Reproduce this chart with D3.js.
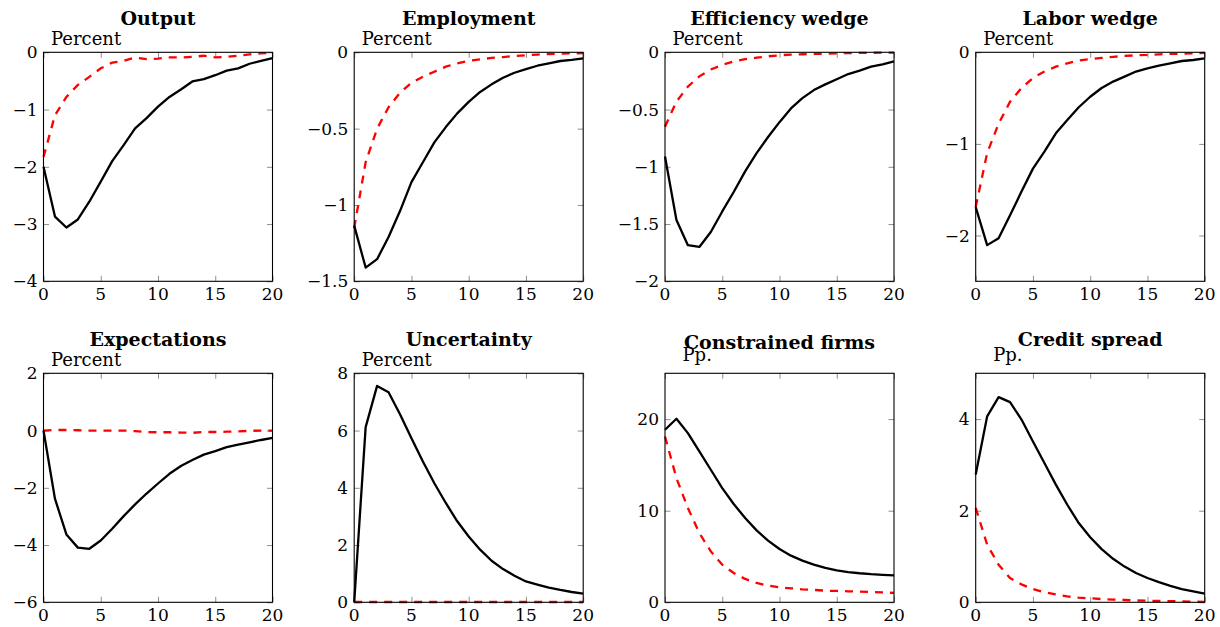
<!DOCTYPE html>
<html>
<head>
<meta charset="utf-8">
<script src="https://cdn.jsdelivr.net/npm/d3@7"></script>
<style>
  body { margin: 0; background: #fff; }
  svg { display: block; }
  text { font-family: "DejaVu Serif", serif; fill: #000; }
</style>
</head>
<body>
<svg id="chart" width="1220" height="627"></svg>
<script>
// horizon (quarters after the shock)
const horizon = [0, 1, 2, 3, 4, 5, 6, 7, 8, 9, 10, 11, 12, 13, 14, 15, 16, 17, 18, 19, 20];
const xTicks = [0, 5, 10, 15, 20];

const titles = ["Output", "Employment", "Efficiency wedge", "Labor wedge",
                "Expectations", "Uncertainty", "Constrained firms", "Credit spread"];
const units = ["Percent", "Percent", "Percent", "Percent", "Percent", "Percent", "Pp.", "Pp."];

const yDomains = [[-4, 0], [-1.5, 0], [-2, 0], [-2.5, 0], [-6, 2], [0, 8], [0, 25], [0, 5]];
const yTicks = [
  [-4, -3, -2, -1, 0],
  [-1.5, -1, -0.5, 0],
  [-2, -1.5, -1, -0.5, 0],
  [-2, -1, 0],
  [-6, -4, -2, 0, 2],
  [0, 2, 4, 6, 8],
  [0, 10, 20],
  [0, 2, 4]
];

// solid black line
const outputSolid = [-2.0, -2.87, -3.06, -2.92, -2.61, -2.26, -1.9, -1.62, -1.33, -1.15, -0.95, -0.78, -0.65, -0.51, -0.47, -0.4, -0.32, -0.28, -0.2, -0.15, -0.1];
const employmentSolid = [-1.135, -1.41, -1.355, -1.21, -1.04, -0.85, -0.72, -0.59, -0.49, -0.4, -0.325, -0.26, -0.21, -0.167, -0.134, -0.11, -0.088, -0.072, -0.057, -0.05, -0.04];
const efficiencySolid = [-0.91, -1.465, -1.685, -1.7, -1.57, -1.39, -1.22, -1.04, -0.88, -0.74, -0.61, -0.49, -0.4, -0.33, -0.28, -0.236, -0.19, -0.16, -0.125, -0.105, -0.08];
const laborSolid = [-1.69, -2.105, -2.03, -1.78, -1.52, -1.27, -1.085, -0.885, -0.74, -0.6, -0.485, -0.39, -0.32, -0.266, -0.21, -0.175, -0.146, -0.12, -0.095, -0.084, -0.066];
const expectationsSolid = [0, -2.38, -3.63, -4.09, -4.13, -3.84, -3.43, -2.99, -2.58, -2.2, -1.85, -1.51, -1.24, -1.03, -0.84, -0.72, -0.58, -0.49, -0.41, -0.33, -0.26];
const uncertaintySolid = [0, 6.12, 7.56, 7.34, 6.57, 5.73, 4.92, 4.16, 3.47, 2.83, 2.3, 1.84, 1.45, 1.16, 0.93, 0.73, 0.62, 0.51, 0.43, 0.36, 0.3];
const constrainedSolid = [18.84, 20.04, 18.47, 16.47, 14.47, 12.47, 10.73, 9.2, 7.85, 6.73, 5.82, 5.09, 4.55, 4.11, 3.75, 3.49, 3.3, 3.17, 3.07, 3.0, 2.95];
const spreadSolid = [2.79, 4.06, 4.48, 4.37, 3.99, 3.51, 3.04, 2.57, 2.13, 1.73, 1.42, 1.16, 0.95, 0.78, 0.64, 0.53, 0.44, 0.36, 0.29, 0.24, 0.19];

// dashed red line
const outputDashed = [-1.83, -1.1, -0.78, -0.57, -0.43, -0.28, -0.18, -0.15, -0.09, -0.12, -0.11, -0.09, -0.09, -0.08, -0.06, -0.09, -0.08, -0.06, -0.035, -0.02, -0.01];
const employmentDashed = [-1.15, -0.72, -0.5, -0.36, -0.265, -0.2, -0.16, -0.127, -0.094, -0.072, -0.055, -0.046, -0.037, -0.031, -0.024, -0.02, -0.015, -0.011, -0.009, -0.007, -0.005];
const efficiencyDashed = [-0.65, -0.43, -0.3, -0.21, -0.15, -0.11, -0.08, -0.06, -0.047, -0.035, -0.026, -0.02, -0.017, -0.014, -0.012, -0.009, -0.007, -0.005, -0.004, -0.003, -0.002];
const laborDashed = [-1.69, -1.1, -0.78, -0.54, -0.39, -0.28, -0.21, -0.157, -0.12, -0.09, -0.073, -0.062, -0.05, -0.04, -0.033, -0.029, -0.022, -0.018, -0.015, -0.011, -0.007];
const expectationsDashed = [0, 0.02, 0.02, 0.01, 0, 0, 0, 0, -0.02, -0.05, -0.06, -0.06, -0.07, -0.08, -0.05, -0.05, -0.04, -0.03, -0.01, 0, 0];
const uncertaintyDashed = [0.01, 0.01, 0.01, 0.01, 0.01, 0.01, 0.01, 0.01, 0.01, 0.01, 0.01, 0.01, 0.01, 0.01, 0.01, 0.01, 0.01, 0.01, 0.01, 0.01, 0.01];
const constrainedDashed = [18.1, 13.56, 10.29, 7.56, 5.56, 4.11, 3.2, 2.55, 2.11, 1.82, 1.64, 1.53, 1.42, 1.35, 1.27, 1.24, 1.2, 1.16, 1.13, 1.09, 1.02];
const spreadDashed = [2.06, 1.26, 0.82, 0.53, 0.39, 0.29, 0.22, 0.17, 0.13, 0.1, 0.087, 0.07, 0.06, 0.05, 0.04, 0.035, 0.03, 0.025, 0.02, 0.015, 0.01];

const solidSeries = [outputSolid, employmentSolid, efficiencySolid, laborSolid,
                     expectationsSolid, uncertaintySolid, constrainedSolid, spreadSolid];
const dashedSeries = [outputDashed, employmentDashed, efficiencyDashed, laborDashed,
                      expectationsDashed, uncertaintyDashed, constrainedDashed, spreadDashed];

// layout
const plotLefts = [43.5, 354.2, 665, 975.7];
const plotTops = [52.3, 373.3];
const plotSize = 229;
const tickLen = 5.5;

const svg = d3.select("#chart");

titles.forEach(function(title, i) {
  const col = i % 4, row = Math.floor(i / 4);
  const g = svg.append("g")
               .attr("transform", "translate(" + plotLefts[col] + "," + plotTops[row] + ")");

  const x = d3.scaleLinear().domain([0, 20]).range([0, plotSize]);
  const y = d3.scaleLinear().domain(yDomains[i]).range([plotSize, 0]);

  // gray inner ticks on all four sides
  g.append("g").attr("transform", "translate(0," + plotSize + ")").call(d3.axisTop(x).tickValues(xTicks).tickSize(tickLen).tickFormat(""));
  g.append("g").call(d3.axisBottom(x).tickValues(xTicks).tickSize(tickLen).tickFormat(""));
  g.append("g").call(d3.axisRight(y).tickValues(yTicks[i]).tickSize(tickLen).tickFormat(""));
  g.append("g").attr("transform", "translate(" + plotSize + ",0)").call(d3.axisLeft(y).tickValues(yTicks[i]).tickSize(tickLen).tickFormat(""));
  g.selectAll(".domain").remove();
  g.selectAll(".tick line").attr("stroke", "#8f8f8f").attr("stroke-width", 1);

  // tick labels
  g.selectAll(".xlab")
   .data(xTicks)
   .enter()
   .append("text")
   .attr("x", d => x(d))
   .attr("y", plotSize + 19)
   .attr("text-anchor", "middle")
   .attr("font-size", 17)
   .text(d => d);

  g.selectAll(".ylab")
   .data(yTicks[i])
   .enter()
   .append("text")
   .attr("x", -6)
   .attr("y", d => y(d))
   .attr("dy", "0.36em")
   .attr("text-anchor", "end")
   .attr("font-size", 17)
   .text(d => d3.format("")(d));

  const line = d3.line()
                 .x((d, k) => x(horizon[k]))
                 .y(d => y(d));

  g.append("path")
   .datum(dashedSeries[i])
   .attr("d", line)
   .attr("fill", "none")
   .attr("stroke", "#ff0000")
   .attr("stroke-width", 2.3)
   .attr("stroke-dasharray", "8,7");

  g.append("path")
   .datum(solidSeries[i])
   .attr("d", line)
   .attr("fill", "none")
   .attr("stroke", "#000")
   .attr("stroke-width", 2.3)
   .attr("stroke-linejoin", "round");

  // frame
  g.append("rect")
   .attr("width", plotSize)
   .attr("height", plotSize)
   .attr("fill", "none")
   .attr("stroke", "#000")
   .attr("stroke-width", 1.1);

  // title and unit label
  g.append("text")
   .attr("x", plotSize / 2)
   .attr("y", title == "Constrained firms" ? -24.5 : -27.8)
   .attr("text-anchor", "middle")
   .attr("font-size", 19)
   .attr("font-weight", "bold")
   .text(title);

  g.append("text")
   .attr("x", units[i] == "Pp." ? 17.5 : 7.5)
   .attr("y", units[i] == "Pp." ? -12 : -7.3)
   .attr("font-size", 18)
   .text(units[i]);
});
</script>
</body>
</html>
